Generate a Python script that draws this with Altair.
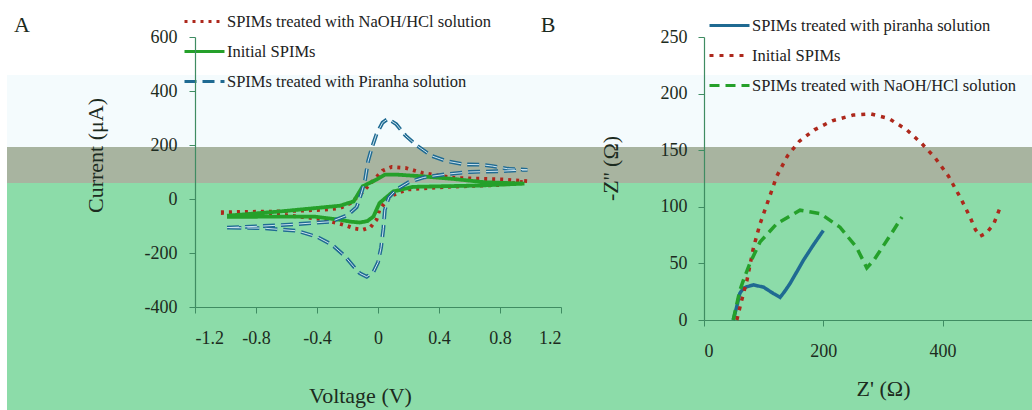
import altair as alt
import pandas as pd

# ---------------- Panel A : cyclic voltammograms ----------------
cv_series = [
    "SPIMs treated with NaOH/HCl solution",
    "Initial SPIMs",
    "SPIMs treated with Piranha solution",
]
naoh_cv_v = [-1.03, -0.64, -0.36, -0.25, -0.18, -0.12, -0.07, -0.02, 0.03, 0.09, 0.18, 0.29, 0.5, 0.83, 0.98,
             0.8, 0.45, 0.19, 0.1, 0.06, 0.01, -0.01, -0.05, -0.1, -0.15, -0.2, -0.36, -0.64, -1.03]
naoh_cv_i = [-49, -46, -40, -34, -15, 15, 45, 75, 105, 119, 115, 97, 78, 72, 66,
             52, 45, 35, 15, -3, -40, -77, -105, -114, -110, -100, -75, -58, -52]
init_cv_v = [-0.99, -0.64, -0.25, -0.16, -0.1, -0.01, 0.045, 0.13, 0.29, 0.5, 0.7, 0.96,
             0.67, 0.23, 0.1, 0.01, -0.03, -0.07, -0.12, -0.18, -0.25, -0.42, -0.99]
init_cv_i = [-62, -46, -25, -9, 47, 72, 90, 90, 84, 74, 62, 57,
             50, 45, 28, -15, -65, -82, -87, -84, -77, -65, -66]
pir_cv_v = [-0.99, -0.75, -0.53, -0.31, -0.2, -0.14, -0.11, -0.085, -0.065, -0.04, -0.01, 0.03, 0.065, 0.12,
            0.18, 0.25, 0.35, 0.45, 0.57, 0.68, 0.75, 0.85, 0.98,
            0.8, 0.6, 0.45, 0.3, 0.2, 0.12, 0.07, 0.045, 0.035, 0.02, 0.0, -0.03, -0.074, -0.12, -0.16,
            -0.22, -0.3, -0.4, -0.53, -0.75, -0.99]
pir_cv_i = [-106, -100, -93, -84, -60, -30, 20, 70, 140, 190, 240, 283, 297, 277,
            235, 200, 160, 140, 128, 127, 122, 112, 108,
            103, 100, 92, 80, 62, 35, 5, -40, -110, -180, -235, -270, -288, -275, -250,
            -210, -170, -140, -118, -108, -106]
cv_ticks_x = [-1.2, -0.8, -0.4, 0, 0.4, 0.8, 1.2]
cv_ticks_y = [-400, -200, 0, 200, 400, 600]

# ---------------- Panel B : Nyquist plots ----------------
eis_series = [
    "SPIMs treated with piranha solution",
    "Initial SPIMs",
    "SPIMs treated with NaOH/HCl solution",
]
pir_eis_re = [49, 55, 60, 66, 72, 83, 100, 116, 127.5, 135, 144, 155, 167, 183, 200]
pir_eis_im = [0, 12, 23.5, 28, 29.4, 31, 29, 23.5, 20, 25, 32, 42, 53, 66, 79]
init_eis_re = [55, 62, 72, 83, 94, 108, 122, 140, 160, 185, 215, 250, 280, 310, 340, 365, 388, 410,
               430, 446, 455, 463, 474, 486, 497]
init_eis_im = [0, 15, 35, 64, 85, 106, 127, 145, 158, 168, 176, 181, 182, 178, 168, 156, 143, 127,
               108, 91, 80, 74, 77, 85, 100]
naoh_eis_re = [49, 55, 60, 68, 77, 94, 122, 161, 195, 228, 256, 273, 285, 295, 315, 332]
naoh_eis_im = [0, 14, 26, 38, 50, 69, 85, 97, 94, 82, 64, 46, 53, 61, 77, 91]
eis_ticks_x = [0, 200, 400]
eis_ticks_y = [0, 50, 100, 150, 200, 250]


def frame(name, xs, ys):
    return pd.DataFrame({"series": name, "x": xs, "y": ys, "k": range(len(xs))})


cv_df = pd.concat([
    frame(cv_series[0], naoh_cv_v, naoh_cv_i),
    frame(cv_series[1], init_cv_v, init_cv_i),
    frame(cv_series[2], pir_cv_v, pir_cv_i),
], ignore_index=True)
eis_df = pd.concat([
    frame(eis_series[0], pir_eis_re, pir_eis_im),
    frame(eis_series[1], init_eis_re, init_eis_im),
    frame(eis_series[2], naoh_eis_re, naoh_eis_im),
], ignore_index=True)

SERIF = "Liberation Serif"
INK = "#1c2b20"
RED = "#ad281c"
GREEN = "#25a02a"
BLUE = "#1f6a92"
AXC = "#3f8c62"
one_row = alt.Data(values=[{"lab": "A"}])


def band(x1, x2, y1, y2, color):
    return alt.Chart(one_row).mark_rect(color=color).encode(
        x=alt.value(x1), x2=alt.value(x2), y=alt.value(y1), y2=alt.value(y2))


# background bands of the picture (page coordinates shifted by the panel-A origin 195,37)
bands = [
    band(-195, 837, -37, 38, "#ffffff"),
    band(-195, 837, 38, 110, "#f4fbfd"),
    band(-195, 837, 110, 146, "#a8b4a0"),
    band(-195, 837, 146, 373, "#8cdca9"),
    band(-195, -188, 38, 373, "#ffffff"),
]


def legend(x, y, pad):
    return alt.Legend(title=None, orient="none", legendX=x, legendY=y, labelFont=SERIF,
                      labelFontSize=16.5, labelColor="#222222", labelLimit=500,
                      symbolType="stroke", symbolSize=1600, symbolStrokeWidth=3,
                      rowPadding=pad, labelOffset=1)


legA = legend(-12, -37, -2)
legB = legend(4, -33, -5)

cv_lines = alt.Chart(cv_df).mark_line(strokeWidth=3.8).encode(
    x=alt.X("x:Q", scale=alt.Scale(domain=[-1.2, 1.2], nice=False, zero=False),
            axis=alt.Axis(values=cv_ticks_x, title="Voltage (V)", zindex=3,
                          labelExpr="(datum.value < 0 ? '-' : '') + (datum.value == 0 ? '0' : format(abs(datum.value), '.1f'))",
                          titleX=165, titleY=88, titleBaseline="middle", titleAlign="center",
                          labelBaseline="middle", labelPadding=25)),
    y=alt.Y("y:Q", scale=alt.Scale(domain=[-400, 600], nice=False, zero=False),
            axis=alt.Axis(values=cv_ticks_y, title="Current (μA)", zindex=3,
                          labelExpr="(datum.value < 0 ? '-' : '') + abs(datum.value)",
                          titleX=-100, titleY=118, titleBaseline="middle", titleAlign="center",
                          labelPadding=12)),
    color=alt.Color("series:N", scale=alt.Scale(domain=cv_series, range=[RED, GREEN, BLUE]), legend=legA),
    strokeDash=alt.StrokeDash("series:N", scale=alt.Scale(domain=cv_series, range=[[3, 5], [1, 0], [12, 6]]),
                              legend=legA),
    order=alt.Order("k:Q"),
)
cv_inner = alt.Chart(cv_df).transform_filter(
    alt.datum.series == cv_series[2]
).mark_line(strokeWidth=1.0, color="#cfe6f0", strokeDash=[12, 6]).encode(
    x="x:Q", y="y:Q", order=alt.Order("k:Q"))

labA = alt.Chart(one_row).mark_text(font=SERIF, fontSize=22, color=INK).encode(
    text=alt.value("A"), x=alt.value(-173), y=alt.value(-12))

panelA = alt.layer(*bands, cv_lines, cv_inner, labA).properties(width=366, height=270)

eis_lines = alt.Chart(eis_df).mark_line(strokeWidth=3.5).encode(
    x=alt.X("x:Q", scale=alt.Scale(domain=[0, 550], nice=False, zero=False),
            axis=alt.Axis(values=eis_ticks_x, title="Z' (Ω)", titleX=179, titleY=68,
                          titleBaseline="middle", titleAlign="center",
                          labelBaseline="middle", labelPadding=25)),
    y=alt.Y("y:Q", scale=alt.Scale(domain=[0, 250], nice=False, zero=False),
            axis=alt.Axis(values=eis_ticks_y, title="-Z'' (Ω)", titleX=-94, titleY=131,
                          titleBaseline="middle", titleAlign="center", labelPadding=11)),
    color=alt.Color("series:N", scale=alt.Scale(domain=eis_series, range=[BLUE, RED, GREEN]), legend=legB),
    strokeDash=alt.StrokeDash("series:N", scale=alt.Scale(domain=eis_series, range=[[1, 0], [4, 6], [10, 6]]),
                              legend=legB),
    order=alt.Order("k:Q"),
)
labB = alt.Chart(one_row).mark_text(font=SERIF, fontSize=22, color=INK).encode(
    text=alt.value("B"), x=alt.value(-156), y=alt.value(-12))

panelB = alt.layer(eis_lines, labB).properties(width=328, height=283)

chart = alt.hconcat(panelA, panelB, spacing=143, bounds="flush").resolve_scale(
    color="independent", strokeDash="independent"
).properties(
    padding=0, background="white"
).configure_view(
    strokeWidth=0
).configure_axis(
    grid=False, domainColor=AXC, tickColor=AXC, tickSize=6, domainWidth=1.2,
    labelFont=SERIF, labelFontSize=18, labelColor=INK,
    titleFont=SERIF, titleFontSize=22, titleFontWeight="normal", titleColor=INK,
)

chart.save("out.html", embed_options={"renderer": "svg", "actions": False})
